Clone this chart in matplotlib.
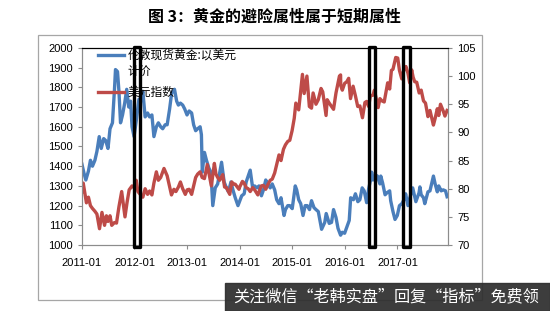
import matplotlib.pyplot as plt
import matplotlib.dates as mdates
from matplotlib.patches import Rectangle
from matplotlib.lines import Line2D
import pandas as pd

plt.rcParams['font.family'] = ['Noto Sans CJK SC', 'DejaVu Sans']

# gold spot, USD (left axis)
gold_dates = [
    '2011-01-01', '2011-01-15', '2011-01-28', '2011-02-15', '2011-03-01', '2011-03-15', '2011-04-01', '2011-04-15',
    '2011-05-01', '2011-05-15', '2011-06-01', '2011-06-15', '2011-07-01', '2011-07-15', '2011-08-01', '2011-08-15',
    '2011-08-22', '2011-09-05', '2011-09-15', '2011-09-26', '2011-10-10', '2011-10-25', '2011-11-08', '2011-11-22',
    '2011-12-05', '2011-12-15', '2011-12-29',
    '2012-01-15', '2012-02-01', '2012-02-15', '2012-02-28', '2012-03-15', '2012-04-01', '2012-04-15', '2012-05-01',
    '2012-05-15', '2012-06-01', '2012-06-15', '2012-07-01', '2012-07-15', '2012-08-01', '2012-08-15', '2012-09-01',
    '2012-09-15', '2012-10-05', '2012-10-20', '2012-11-01', '2012-11-15', '2012-12-01', '2012-12-15', '2012-12-31',
    '2013-01-15', '2013-02-01', '2013-02-15', '2013-03-01', '2013-03-15', '2013-04-01', '2013-04-10', '2013-04-16',
    '2013-05-01', '2013-05-15', '2013-06-01', '2013-06-15', '2013-06-28', '2013-07-15', '2013-08-01', '2013-08-28',
    '2013-09-15', '2013-10-01', '2013-10-15', '2013-11-01', '2013-11-15', '2013-12-01', '2013-12-20',
    '2014-01-15', '2014-02-01', '2014-02-15', '2014-03-15', '2014-04-01', '2014-04-15', '2014-05-01', '2014-05-15',
    '2014-06-01', '2014-06-15', '2014-07-01', '2014-07-15', '2014-08-01', '2014-08-15', '2014-09-01', '2014-09-15',
    '2014-10-01', '2014-10-15', '2014-11-05', '2014-11-15', '2014-12-01', '2014-12-15',
    '2015-01-01', '2015-01-22', '2015-02-01', '2015-02-15', '2015-03-01', '2015-03-17', '2015-04-01', '2015-04-15',
    '2015-05-01', '2015-05-15', '2015-06-01', '2015-06-15', '2015-07-01', '2015-07-24', '2015-08-15', '2015-08-25',
    '2015-09-15', '2015-10-01', '2015-10-15', '2015-11-01', '2015-11-15', '2015-12-03', '2015-12-15', '2015-12-31',
    '2016-01-15', '2016-02-01', '2016-02-11', '2016-03-01', '2016-03-15', '2016-04-01', '2016-04-15', '2016-05-01',
    '2016-05-15', '2016-06-01', '2016-06-15', '2016-07-01', '2016-07-06', '2016-07-15', '2016-08-01', '2016-08-15',
    '2016-09-01', '2016-09-07', '2016-09-20', '2016-10-07', '2016-10-20', '2016-11-08', '2016-11-15', '2016-12-01',
    '2016-12-15', '2016-12-31',
    '2017-01-15', '2017-02-01', '2017-02-15', '2017-02-27', '2017-03-15', '2017-04-01', '2017-04-17', '2017-05-09',
    '2017-05-31', '2017-06-06', '2017-06-15', '2017-07-01', '2017-07-10', '2017-08-01', '2017-08-15', '2017-09-08',
    '2017-09-20', '2017-10-05', '2017-10-15', '2017-11-01', '2017-11-15', '2017-12-01', '2017-12-12',
]
gold_values = [
    1410, 1365, 1330, 1375, 1430, 1400, 1430, 1475,
    1550, 1490, 1540, 1530, 1490, 1590, 1620, 1790,
    1890, 1880, 1780, 1620, 1660, 1720, 1790, 1700,
    1730, 1600, 1550,
    1640, 1740, 1730, 1780, 1650, 1670, 1650, 1660,
    1550, 1600, 1620, 1600, 1590, 1610, 1610, 1690,
    1770, 1790, 1730, 1710, 1720, 1710, 1690, 1660,
    1680, 1670, 1610, 1580, 1590, 1600, 1560, 1370,
    1470, 1430, 1390, 1370, 1200, 1290, 1310, 1420,
    1320, 1290, 1270, 1320, 1280, 1240, 1200,
    1250, 1260, 1320, 1380, 1290, 1300, 1290, 1300,
    1250, 1280, 1330, 1310, 1290, 1310, 1280, 1230,
    1210, 1240, 1150, 1180, 1200, 1200,
    1185, 1300, 1280, 1230, 1210, 1150, 1200, 1200,
    1180, 1225, 1190, 1180, 1170, 1080, 1115, 1160,
    1110, 1115, 1180, 1140, 1085, 1050, 1065, 1060,
    1090, 1125, 1240, 1230, 1260, 1220, 1230, 1290,
    1275, 1215, 1285, 1340, 1370, 1330, 1355, 1350,
    1310, 1350, 1315, 1255, 1265, 1275, 1225, 1170,
    1130, 1150,
    1200, 1210, 1230, 1260, 1200, 1250, 1290, 1220,
    1265, 1295, 1255, 1240, 1210, 1270, 1275, 1350,
    1310, 1270, 1300, 1275, 1280, 1275, 1245,
]

# US dollar index (right axis)
dxy_dates = [
    '2011-01-01', '2011-01-10', '2011-02-01', '2011-02-15', '2011-03-01', '2011-03-15', '2011-04-01', '2011-04-15',
    '2011-05-03', '2011-05-20', '2011-06-07', '2011-06-20', '2011-07-01', '2011-07-15', '2011-07-27', '2011-08-15',
    '2011-08-29', '2011-09-15', '2011-10-04', '2011-10-27', '2011-11-10', '2011-11-25', '2011-12-15', '2011-12-29',
    '2012-01-13', '2012-01-25', '2012-02-10', '2012-02-28', '2012-03-15', '2012-04-01', '2012-04-15', '2012-05-01',
    '2012-05-15', '2012-06-01', '2012-06-15', '2012-07-01', '2012-07-24', '2012-08-15', '2012-09-14', '2012-10-01',
    '2012-10-15', '2012-11-01', '2012-11-15', '2012-12-01', '2012-12-19',
    '2013-01-01', '2013-01-15', '2013-02-01', '2013-02-15', '2013-03-01', '2013-03-15', '2013-04-01', '2013-04-15',
    '2013-05-01', '2013-05-21', '2013-06-18', '2013-07-09', '2013-07-20', '2013-08-01', '2013-08-15', '2013-09-05',
    '2013-09-18', '2013-10-01', '2013-10-24', '2013-11-07', '2013-11-20', '2013-12-01', '2013-12-27',
    '2014-01-01', '2014-01-20', '2014-02-01', '2014-02-15', '2014-03-01', '2014-03-15', '2014-04-01', '2014-04-15',
    '2014-05-07', '2014-05-31', '2014-06-15', '2014-07-01', '2014-07-15', '2014-08-01', '2014-08-15', '2014-09-01',
    '2014-09-15', '2014-10-01', '2014-10-15', '2014-11-01', '2014-11-15', '2014-12-01', '2014-12-15', '2014-12-31',
    '2015-01-15', '2015-01-26', '2015-02-15', '2015-03-13', '2015-03-25', '2015-04-13', '2015-04-30', '2015-05-15',
    '2015-05-26', '2015-06-15', '2015-07-01', '2015-07-20', '2015-08-01', '2015-08-24', '2015-09-01', '2015-09-15',
    '2015-10-15', '2015-11-01', '2015-11-25', '2015-12-03', '2015-12-04', '2015-12-15', '2015-12-31',
    '2016-01-15', '2016-01-28', '2016-02-10', '2016-02-28', '2016-03-15', '2016-03-31', '2016-04-15', '2016-05-03',
    '2016-05-20', '2016-06-01', '2016-06-15', '2016-06-27', '2016-07-15', '2016-07-25', '2016-08-10', '2016-08-20',
    '2016-09-01', '2016-09-15', '2016-10-01', '2016-10-25', '2016-11-08', '2016-11-20', '2016-12-01', '2016-12-20',
    '2017-01-03', '2017-01-15', '2017-01-31', '2017-02-15', '2017-03-01', '2017-03-15', '2017-03-27', '2017-04-10',
    '2017-04-20', '2017-05-01', '2017-05-15', '2017-06-01', '2017-06-15', '2017-07-01', '2017-07-15', '2017-08-01',
    '2017-08-15', '2017-09-08', '2017-09-20', '2017-10-05', '2017-10-15', '2017-10-27', '2017-11-15', '2017-11-27',
    '2017-12-12',
]
dxy_values = [
    79.5, 81.0, 77.5, 78.5, 77.0, 76.5, 76.0, 75.5,
    72.9, 75.8, 73.5, 75.2, 74.2, 75.2, 73.5, 74.0,
    73.9, 76.8, 79.5, 75.0, 77.5, 79.8, 80.5, 80.2,
    81.5, 79.5, 79.0, 78.5, 80.0, 79.0, 79.6, 78.9,
    81.0, 83.0, 81.5, 82.0, 83.6, 82.3, 78.9, 79.9,
    79.5, 80.3, 81.2, 80.0, 79.0,
    79.8, 79.9, 79.0, 80.5, 82.0, 82.6, 83.0, 82.0,
    81.8, 84.3, 80.5, 84.5, 82.6, 82.0, 81.5, 82.5,
    80.3, 80.2, 79.0, 81.2, 80.8, 80.8, 79.9,
    80.3, 81.3, 81.0, 80.2, 80.0, 79.5, 80.2, 79.8,
    78.9, 80.5, 80.6, 79.9, 80.7, 81.5, 81.7, 82.8,
    84.3, 86.0, 85.0, 87.0, 87.8, 88.4, 88.6, 90.3,
    92.5, 95.2, 94.0, 100.3, 96.9, 100.0, 94.6, 94.3,
    97.0, 95.0, 95.8, 97.8, 97.2, 93.0, 95.8, 95.2,
    94.1, 97.0, 100.0, 100.2, 98.3, 97.5, 98.7,
    99.0, 99.6, 96.0, 98.2, 96.5, 94.6, 94.7, 92.6,
    95.3, 95.5, 94.6, 96.5, 96.6, 97.5, 95.6, 94.4,
    96.0, 95.6, 95.4, 98.8, 97.7, 101.0, 101.2, 103.3,
    103.2, 101.0, 99.5, 101.2, 101.7, 100.5, 98.8, 101.1,
    99.8, 99.0, 98.9, 97.0, 97.5, 95.6, 95.2, 92.8,
    93.9, 91.3, 92.5, 94.2, 93.0, 95.0, 93.8, 92.9,
    93.9,
]

# periods boxed in black
box_starts = ['2011-12-28', '2016-06-20', '2017-02-12']
box_ends = ['2012-02-08', '2016-08-01', '2017-03-28']

xtick_labels = ['2011-01', '2012-01', '2013-01', '2014-01', '2015-01', '2016-01', '2017-01']

gold_label = ['伦敦现货黄金:以美元', '计价']
dxy_label = '美元指数'

blue = '#4a7ebb'
red = '#be4b48'
grey = '#8c8c8c'

fig = plt.figure(figsize=(5.5, 3.11), dpi=100)
ax = fig.add_axes([0.149, 0.212, 0.666, 0.634])
ax2 = ax.twinx()

ax.plot(pd.to_datetime(gold_dates), gold_values, color=blue, lw=2.4, zorder=3)
ax2.plot(pd.to_datetime(dxy_dates), dxy_values, color=red, lw=2.4)

ax.set_ylim(1000, 2000)
ax.set_yticks(range(1000, 2001, 100))
ax2.set_ylim(70, 105)
ax2.set_yticks(range(70, 106, 5))
ax.set_xlim(pd.Timestamp('2011-01-01'), pd.Timestamp('2017-12-20'))
ax.set_xticks(pd.to_datetime(xtick_labels))
ax.xaxis.set_major_formatter(mdates.DateFormatter('%Y-%m'))

for a in (ax, ax2):
    for s in ['left', 'right', 'bottom']:
        a.spines[s].set_color(grey)
    a.spines['top'].set_color('black')
    a.tick_params(colors=grey, labelcolor='black', length=3, width=0.8, labelsize=8)
    for lbl in a.get_xticklabels() + a.get_yticklabels():
        lbl.set_fontfamily('Liberation Sans')
ax.tick_params(axis='x', pad=6)

# black rounded boxes around the highlighted periods
tr = ax.get_xaxis_transform()
for s, e in zip(box_starts, box_ends):
    x0 = mdates.date2num(pd.Timestamp(s))
    x1 = mdates.date2num(pd.Timestamp(e))
    ax2.add_patch(Rectangle((x0, -0.01), x1 - x0, 1.015, transform=tr, fill=False,
                            ec='black', lw=2.4, joinstyle='round', clip_on=False, zorder=5))

# legend (line aligned with first text row, like Excel)
ax2.add_line(Line2D([0.045, 0.115], [0.965, 0.965], transform=ax.transAxes, color=blue, lw=2.4))
ax2.text(0.125, 0.965, gold_label[0], transform=ax.transAxes, fontsize=8.5, va='center')
ax2.text(0.125, 0.88, gold_label[1], transform=ax.transAxes, fontsize=8.5, va='center')
ax2.add_line(Line2D([0.045, 0.115], [0.777, 0.777], transform=ax.transAxes, color=red, lw=2.4))
ax2.text(0.125, 0.777, dxy_label, transform=ax.transAxes, fontsize=8.5, va='center')

# outer frame
fig.add_artist(Rectangle((0.069, 0.035), 0.807, 0.852, transform=fig.transFigure,
                         fill=False, ec='#a6a6a6', lw=0.9))

fig.text(0.5, 0.945, '图 3：黄金的避险属性属于短期属性', ha='center', va='center',
         fontsize=11.5, fontweight='bold')

# watermark bar
fig.add_artist(Rectangle((225 / 550, 0), 325 / 550, 28 / 311, transform=fig.transFigure,
                         color='#2e2e2e', alpha=0.93, zorder=10))
fig.text(233 / 550, 14 / 311, '关注微信“老韩实盘”回复“指标”免费领', color='white',
         fontsize=11.6, va='center', ha='left', zorder=11)

fig.savefig('out.png', dpi=100)
